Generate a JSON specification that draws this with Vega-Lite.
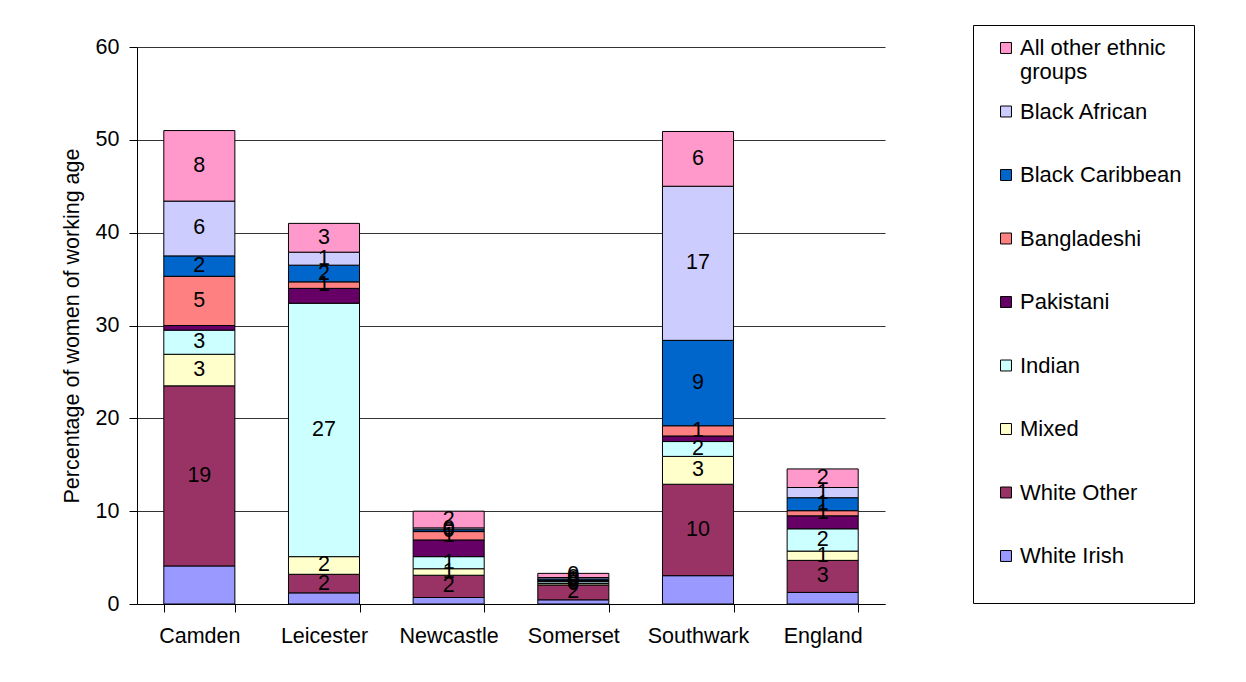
{
  "$schema": "https://vega.github.io/schema/vega-lite/v6.json",
  "width": 748,
  "height": 557,
  "autosize": {"type": "none"},
  "padding": {"left": 137, "top": 47, "right": 361, "bottom": 78},
  "background": "white",
  "config": {"font": "Liberation Sans", "view": {"stroke": null}},
  "datasets": {
    "groups": [
      {"group": "White Irish", "rank": 1},
      {"group": "White Other", "rank": 2},
      {"group": "Mixed", "rank": 3},
      {"group": "Indian", "rank": 4},
      {"group": "Pakistani", "rank": 5},
      {"group": "Bangladeshi", "rank": 6},
      {"group": "Black Caribbean", "rank": 7},
      {"group": "Black African", "rank": 8},
      {"group": "All other ethnic groups", "rank": 9}
    ],
    "values": [
      {"area": "Camden", "group": "White Irish", "value": 4.1},
      {"area": "Camden", "group": "White Other", "value": 19.4},
      {"area": "Camden", "group": "Mixed", "value": 3.4},
      {"area": "Camden", "group": "Indian", "value": 2.6},
      {"area": "Camden", "group": "Pakistani", "value": 0.5},
      {"area": "Camden", "group": "Bangladeshi", "value": 5.3},
      {"area": "Camden", "group": "Black Caribbean", "value": 2.2},
      {"area": "Camden", "group": "Black African", "value": 5.9},
      {"area": "Camden", "group": "All other ethnic groups", "value": 7.6},
      {"area": "Leicester", "group": "White Irish", "value": 1.2},
      {"area": "Leicester", "group": "White Other", "value": 2.0},
      {"area": "Leicester", "group": "Mixed", "value": 1.9},
      {"area": "Leicester", "group": "Indian", "value": 27.3},
      {"area": "Leicester", "group": "Pakistani", "value": 1.6},
      {"area": "Leicester", "group": "Bangladeshi", "value": 0.7},
      {"area": "Leicester", "group": "Black Caribbean", "value": 1.8},
      {"area": "Leicester", "group": "Black African", "value": 1.4},
      {"area": "Leicester", "group": "All other ethnic groups", "value": 3.1},
      {"area": "Newcastle", "group": "White Irish", "value": 0.7},
      {"area": "Newcastle", "group": "White Other", "value": 2.4},
      {"area": "Newcastle", "group": "Mixed", "value": 0.7},
      {"area": "Newcastle", "group": "Indian", "value": 1.3},
      {"area": "Newcastle", "group": "Pakistani", "value": 1.8},
      {"area": "Newcastle", "group": "Bangladeshi", "value": 0.9},
      {"area": "Newcastle", "group": "Black Caribbean", "value": 0.2},
      {"area": "Newcastle", "group": "Black African", "value": 0.2},
      {"area": "Newcastle", "group": "All other ethnic groups", "value": 1.8},
      {"area": "Somerset", "group": "White Irish", "value": 0.45},
      {"area": "Somerset", "group": "White Other", "value": 1.6},
      {"area": "Somerset", "group": "Mixed", "value": 0.15},
      {"area": "Somerset", "group": "Indian", "value": 0.2},
      {"area": "Somerset", "group": "Pakistani", "value": 0.1},
      {"area": "Somerset", "group": "Bangladeshi", "value": 0.05},
      {"area": "Somerset", "group": "Black Caribbean", "value": 0.15},
      {"area": "Somerset", "group": "Black African", "value": 0.15},
      {"area": "Somerset", "group": "All other ethnic groups", "value": 0.45},
      {"area": "Southwark", "group": "White Irish", "value": 3.05},
      {"area": "Southwark", "group": "White Other", "value": 9.85},
      {"area": "Southwark", "group": "Mixed", "value": 3.0},
      {"area": "Southwark", "group": "Indian", "value": 1.6},
      {"area": "Southwark", "group": "Pakistani", "value": 0.6},
      {"area": "Southwark", "group": "Bangladeshi", "value": 1.1},
      {"area": "Southwark", "group": "Black Caribbean", "value": 9.2},
      {"area": "Southwark", "group": "Black African", "value": 16.6},
      {"area": "Southwark", "group": "All other ethnic groups", "value": 5.9},
      {"area": "England", "group": "White Irish", "value": 1.25},
      {"area": "England", "group": "White Other", "value": 3.45},
      {"area": "England", "group": "Mixed", "value": 1.0},
      {"area": "England", "group": "Indian", "value": 2.4},
      {"area": "England", "group": "Pakistani", "value": 1.4},
      {"area": "England", "group": "Bangladeshi", "value": 0.55},
      {"area": "England", "group": "Black Caribbean", "value": 1.4},
      {"area": "England", "group": "Black African", "value": 1.1},
      {"area": "England", "group": "All other ethnic groups", "value": 2.0}
    ]
  },
  "data": {"name": "values"},
  "transform": [
    {"lookup": "group", "from": {"data": {"name": "groups"}, "key": "group", "fields": ["rank"]}},
    {"stack": "value", "groupby": ["area"], "sort": [{"field": "rank", "order": "ascending"}], "as": ["v0", "v1"]},
    {"calculate": "(datum.v0 + datum.v1) / 2", "as": "mid"}
  ],
  "encoding": {
    "x": {
      "field": "area",
      "type": "nominal",
      "sort": ["Camden", "Leicester", "Newcastle", "Somerset", "Southwark", "England"],
      "scale": {"paddingInner": 0.43, "paddingOuter": 0.215},
      "axis": {
        "title": null,
        "labelAngle": 0,
        "labelFontSize": 21.5,
        "labelColor": "black",
        "tickBand": "extent",
        "tickSize": 8,
        "tickColor": "black",
        "domainColor": "black",
        "labelPadding": 13,
        "grid": false
      }
    }
  },
  "layer": [
    {
      "mark": {"type": "bar", "stroke": "black", "strokeWidth": 1},
      "encoding": {
        "y": {
          "field": "v0",
          "type": "quantitative",
          "scale": {"domain": [0, 60]},
          "axis": {
            "title": "Percentage of women of working age",
            "titleFontSize": 21.5,
            "titleFontWeight": "normal",
            "titleColor": "black",
            "titlePadding": 12,
            "labelFontSize": 21.5,
            "labelColor": "black",
            "labelPadding": 10,
            "tickSize": 8,
            "tickColor": "black",
            "domainColor": "black",
            "gridColor": "black",
            "gridOpacity": 0.8,
            "values": [0, 10, 20, 30, 40, 50, 60]
          }
        },
        "y2": {"field": "v1"},
        "color": {
          "field": "group",
          "type": "nominal",
          "scale": {
            "domain": ["All other ethnic groups", "Black African", "Black Caribbean", "Bangladeshi", "Pakistani", "Indian", "Mixed", "White Other", "White Irish"],
            "range": ["#FF99CC", "#CCCCFF", "#0066CC", "#FF8080", "#660066", "#CCFFFF", "#FFFFCC", "#993366", "#9999FF"]
          },
          "legend": {
            "orient": "none",
            "legendX": 836,
            "legendY": -22,
            "title": null,
            "strokeColor": "black",
            "fillColor": "white",
            "padding": 12,
            "symbolOffset": 10,
            "symbolType": "square",
            "symbolSize": 120,
            "symbolStrokeColor": "black",
            "symbolStrokeWidth": 1,
            "labelFontSize": 22,
            "labelColor": "black",
            "labelOffset": 3,
            "labelLimit": 300,
            "rowPadding": 17.5,
            "labelExpr": "datum.label == 'All other ethnic groups' ? ['All other ethnic', 'groups'] : [datum.label, '']",
            "encoding": {"labels": {"update": {"lineHeight": {"value": 26}}}}
          }
        }
      }
    },
    {
      "transform": [{"filter": "datum.group != 'White Irish' && datum.group != 'Pakistani'"}],
      "mark": {"type": "text", "fontSize": 21.5, "color": "black", "baseline": "middle"},
      "encoding": {
        "y": {"field": "mid", "type": "quantitative"},
        "text": {"field": "value", "type": "quantitative", "format": ".0f"}
      }
    }
  ]
}
